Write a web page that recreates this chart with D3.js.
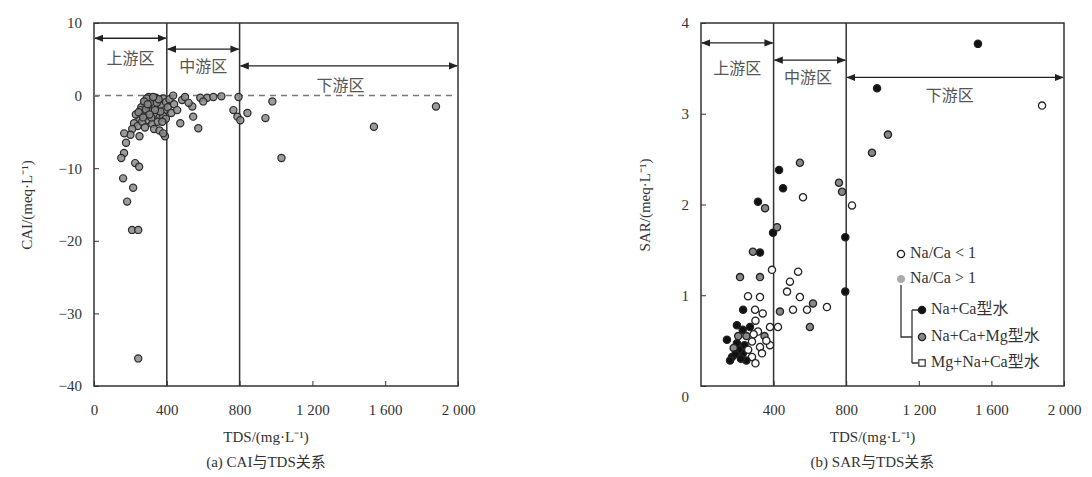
<!DOCTYPE html>
<html><head><meta charset="utf-8">
<script src="https://cdn.jsdelivr.net/npm/d3@7"></script>
<style>body{margin:0;background:#fff}</style>
</head><body>
<svg id="c" width="1092" height="477"></svg>
<script>
// ---------- DATA ----------
const xTicks = [0, 400, 800, 1200, 1600, 2000];
const cayTicks = [-40, -30, -20, -10, 0, 10];
const sarTicks = [0, 1, 2, 3, 4];
const zoneNames = ["上游区", "中游区", "下游区"];
const zoneBounds = [[0, 400], [400, 800], [800, 2000]];
const caiArrowLevels = [7.9, 6.4, 4.1];
const caiLabelPos = [[200, 4.9], [600, 3.8], [1355, 1.2]];
const sarArrowLevels = [3.78, 3.59, 3.40];
const sarLabelPos = [[200, 3.48], [590, 3.38], [1370, 3.18]];

// CAI vs TDS  [TDS, CAI]
const caiPoints = [
 [300,-0.2],[320,-0.5],[340,-0.3],[360,-0.8],[380,-0.4],[280,-1.0],[300,-1.5],[330,-1.2],[350,-1.8],[370,-1.4],
 [390,-2.0],[260,-1.6],[270,-2.4],[290,-2.8],[310,-2.2],[340,-2.6],[360,-3.0],[380,-2.8],[250,-3.2],[230,-2.6],
 [220,-3.8],[240,-4.2],[265,-3.6],[300,-3.4],[320,-3.9],[350,-3.6],[395,-3.2],[210,-4.6],[200,-5.4],[280,-4.4],
 [330,-4.6],[310,-0.9],[290,-0.4],[345,-1.0],[365,-2.2],[255,-2.0],[275,-0.8],[395,-0.9],[405,-1.6],[415,-0.5],
 [425,-2.4],[440,-1.2],[360,-4.8],[390,-5.6],[250,-5.6],
 [285,-1.9],[315,-3.0],[335,-2.0],[355,-0.5],[305,-2.6],[325,-0.2],[245,-2.3],[270,-3.0],[295,-1.2],[375,-3.6],
 [166,-5.2],[176,-6.5],[165,-7.9],[150,-8.6],[226,-9.3],[248,-9.8],[160,-11.4],[215,-12.7],[182,-14.6],
 [209,-18.5],[243,-18.5],[243,-36.2],
 [435,0],[484,-0.6],[540,-1.5],[545,-2.9],[573,-4.5],[584,-0.3],[622,-0.3],[656,-0.2],[457,-2.0],[474,-3.8],
 [380,-5.2],[500,-0.2],[520,-1.0],[600,-0.8],[700,-0.1],
 [794,-0.2],[766,-2.0],[788,-2.9],[804,-3.4],[843,-2.4],
 [980,-0.8],[942,-3.1],[1030,-8.6],[1538,-4.3],[1879,-1.5]
];

// SAR vs TDS  [TDS, SAR, type]  type: 0 Na/Ca<1, 1 Na+Ca型水, 2 Na+Ca+Mg型水, 3 Mg+Na+Ca型水
const sarPoints = [
 [1526,3.77,1],[970,3.28,1],[1879,3.09,0],[1030,2.77,2],[942,2.57,2],
 [545,2.46,2],[430,2.38,1],[452,2.18,1],[562,2.08,0],[314,2.03,1],[353,1.96,2],[760,2.24,2],[777,2.14,2],
 [832,1.99,0],[795,1.64,1],[795,1.04,1],[397,1.69,1],[419,1.75,2],[325,1.47,1],[286,1.48,2],
 [391,1.28,0],[215,1.20,2],[325,1.20,2],[535,1.26,0],[490,1.15,0],[474,1.04,0],[259,0.99,0],[325,0.98,0],
 [545,0.98,0],[232,0.84,1],[298,0.84,0],[435,0.82,2],[507,0.84,0],[584,0.84,0],[617,0.91,2],[694,0.87,0],
 [600,0.65,2],[380,0.65,0],[424,0.65,0],[198,0.67,1],[270,0.65,1],[314,0.60,0],[143,0.51,1],[198,0.47,1],
 [281,0.49,0],[325,0.43,0],[171,0.32,1],[231,0.36,1],[281,0.32,0],[336,0.36,0],[160,0.28,1],[350,0.55,2],
 [250,0.55,2],[380,0.45,0],[210,0.40,1],[250,0.28,1],[300,0.25,0],[180,0.42,2],
 [220,0.30,1],[190,0.35,1],[240,0.45,1],[260,0.40,0],[290,0.57,0],[205,0.55,2],[230,0.62,1],[300,0.72,0],
 [340,0.80,0],[360,0.50,0]
];
const legendLabels = ["Na/Ca < 1", "Na/Ca > 1", "Na+Ca型水", "Na+Ca+Mg型水", "Mg+Na+Ca型水"];

// ---------- DRAW ----------
const svg = d3.select("#c");
svg.append("rect").attr("width",1092).attr("height",477).attr("fill","#fff");
const serif = "'Liberation Serif','Noto Sans CJK SC',serif";
const ink = "#333";
const fmt = d => { const s = String(Math.abs(d)); const t = s.length > 3 ? s.slice(0, s.length-3) + " " + s.slice(-3) : s; return (d < 0 ? "−" : "") + t; };

svg.append("defs").html(
 '<marker id="ah" viewBox="0 0 10 10" refX="9" refY="5" markerWidth="7" markerHeight="7" orient="auto-start-reverse"><path d="M0,1 L10,5 L0,9 Z" fill="#222"/></marker>');

function panel(opt) {
  const x = d3.scaleLinear().domain([0, 2000]).range([opt.x0, opt.x1]);
  const y = d3.scaleLinear().domain(opt.yDomain).range([386, 23]);
  const g = svg.append("g");

  const ya = g.append("g").attr("transform", `translate(${opt.x0},0)`)
    .call(d3.axisLeft(y).tickValues(opt.yTicks).tickSize(-5).tickPadding(12).tickFormat(fmt));
  const xa = g.append("g").attr("transform", `translate(0,386)`)
    .call(d3.axisBottom(x).tickValues(opt.xTicks).tickSize(-5).tickPadding(18).tickFormat(fmt));
  [ya, xa].forEach(a => {
    a.select(".domain").remove();
    a.selectAll("line").attr("stroke", ink);
    a.selectAll("text").attr("font-family", serif).attr("font-size", 15).attr("fill", ink);
  });
  if (opt.zeroShift) ya.selectAll(".tick").filter(d => d === 0).select("text").attr("dy", "1.0em");

  g.append("rect").attr("x", opt.x0).attr("y", 23).attr("width", opt.x1 - opt.x0).attr("height", 363)
    .attr("fill", "none").attr("stroke", ink).attr("stroke-width", 1.5);

  g.selectAll(".div").data([400, 800]).join("line")
    .attr("x1", d => x(d)).attr("x2", d => x(d)).attr("y1", 23).attr("y2", 386)
    .attr("stroke", ink).attr("stroke-width", 1.5);

  zoneBounds.forEach((b, i) => {
    g.append("line").attr("x1", x(b[0]) + 1).attr("x2", x(b[1]) - 1)
      .attr("y1", y(opt.arrows[i])).attr("y2", y(opt.arrows[i]))
      .attr("stroke", "#222").attr("stroke-width", 1.3)
      .attr("marker-start", "url(#ah)").attr("marker-end", "url(#ah)");
    g.append("text").attr("x", x(opt.labels[i][0])).attr("y", y(opt.labels[i][1]))
      .attr("text-anchor", "middle").attr("dominant-baseline", "middle")
      .attr("font-family", serif).attr("font-size", 16).attr("fill", "#555").text(zoneNames[i]);
  });

  g.append("text").attr("transform", `translate(${opt.ylabX},205) rotate(-90)`)
    .attr("text-anchor", "middle").attr("font-family", serif).attr("font-size", 15).attr("fill", ink)
    .text(opt.ylabel);
  g.append("text").attr("x", (opt.x0 + opt.x1) / 2 - 10).attr("y", 442).attr("text-anchor", "middle")
    .attr("font-family", serif).attr("font-size", 15).attr("fill", ink).text("TDS/(mg·L⁻¹)");
  g.append("text").attr("x", (opt.x0 + opt.x1) / 2 - 10).attr("y", 467).attr("text-anchor", "middle")
    .attr("font-family", serif).attr("font-size", 15).attr("fill", ink).text(opt.caption);
  return { g, x, y };
}

// Left panel
const L = panel({ x0: 94, x1: 458, yDomain: [-40, 10], yTicks: cayTicks, xTicks: xTicks,
  arrows: caiArrowLevels, labels: caiLabelPos, ylabX: 32, ylabel: "CAI/(meq·L⁻¹)", caption: "(a) CAI与TDS关系" });
L.g.append("line").attr("x1", 94).attr("x2", 458).attr("y1", L.y(0)).attr("y2", L.y(0))
  .attr("stroke", "#777").attr("stroke-width", 1.5).attr("stroke-dasharray", "6,5");
L.g.selectAll(".cp").data(caiPoints).join("circle")
  .attr("cx", d => L.x(d[0])).attr("cy", d => L.y(d[1])).attr("r", 3.6)
  .attr("fill", "#8a8a8a").attr("fill-opacity", 0.85).attr("stroke", "#2a2a2a").attr("stroke-width", 1.2);

// Right panel
const R = panel({ x0: 701, x1: 1064, yDomain: [0, 4], yTicks: sarTicks, xTicks: xTicks.slice(1),
  arrows: sarArrowLevels, labels: sarLabelPos, ylabX: 650, ylabel: "SAR/(meq·L⁻¹)", caption: "(b) SAR与TDS关系", zeroShift: true });

const fills = ["#fff", "#111", "#888", "#fff"];
function marker(sel, type) {
  if (type === 3) {
    sel.append("rect").attr("x", -3.2).attr("y", -3.2).attr("width", 6.4).attr("height", 6.4)
      .attr("fill", "#fff").attr("stroke", "#333").attr("stroke-width", 1.2);
  } else {
    sel.append("circle").attr("r", 3.6).attr("fill", fills[type]).attr("stroke", "#222").attr("stroke-width", 1.3);
  }
}
R.g.selectAll(".sp").data(sarPoints).join("g")
  .attr("transform", d => `translate(${R.x(d[0])},${R.y(d[1])})`)
  .each(function(d) { marker(d3.select(this), d[2]); });

// Legend
const lg = svg.append("g");
const legY = [254, 279, 310, 337, 363];
const legX = [901, 901, 922, 922, 922];
lg.append("path").attr("d", "M901,285 V337 H912 M912,310 V363 M912,310 H918 M912,363 H918")
  .attr("fill", "none").attr("stroke", "#333").attr("stroke-width", 1.3);
legendLabels.forEach((t, i) => {
  const m = lg.append("g").attr("transform", `translate(${legX[i]},${legY[i]})`);
  if (i === 0) marker(m, 0);
  else if (i === 1) m.append("circle").attr("r", 3.6).attr("fill", "#aaa").attr("stroke", "#aaa");
  else marker(m, i - 1);
  lg.append("text").attr("x", legX[i] + 9).attr("y", legY[i]).attr("dominant-baseline", "middle")
    .attr("font-family", serif).attr("font-size", 16).attr("fill", ink).text(t);
});
</script>
</body></html>
